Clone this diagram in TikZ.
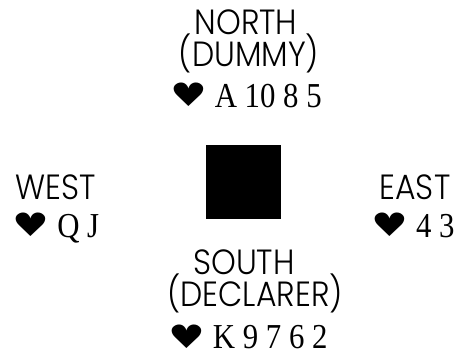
\documentclass[tikz,border=0pt]{standalone}
\usepackage{fontspec}
\setmainfont{Liberation Serif}[FakeStretch=0.88]
\newfontfamily\seatfont{Poppins Light}[FakeStretch=0.9]
\newfontfamily\symfont{DejaVu Sans}
\newcommand{\hrt}{\raisebox{1pt}{\scalebox{1.08}[0.85]{\symfont\fontsize{38}{38}\selectfont ♥}}}
\tikzset{
  seat/.style={anchor=base,inner sep=0pt,font=\seatfont\fontsize{35}{35}\selectfont},
  cards/.style={anchor=base,inner sep=0pt,font=\fontsize{35}{35}\selectfont},
}
\begin{document}
\begin{tikzpicture}[x=1pt,y=1pt]
  \useasboundingbox (0,0) rectangle (455,356);
  % table
  \fill (206,137) rectangle (281,211);
  % north
  \node[seat] (northname) at (246,321) {NORTH};
  \node[seat] (northrole) at (249,289) {(DUMMY)};
  \node[cards] (northhand) at (246,248) {\hrt\ A 10 8 5};
  % west
  \node[seat] (westname) at (56,156) {WEST};
  \node[cards] (westhand) at (56,118) {\hrt\ Q J};
  % east
  \node[seat] (eastname) at (415,156) {EAST};
  \node[cards] (easthand) at (413,118) {\hrt\ 4 3};
  % south
  \node[seat] (southname) at (244,81) {SOUTH};
  \node[seat] (southrole) at (255,49) {(DECLARER)};
  \node[cards] (southhand) at (248,7) {\hrt\ K 9 7 6 2};
\end{tikzpicture}
\end{document}
